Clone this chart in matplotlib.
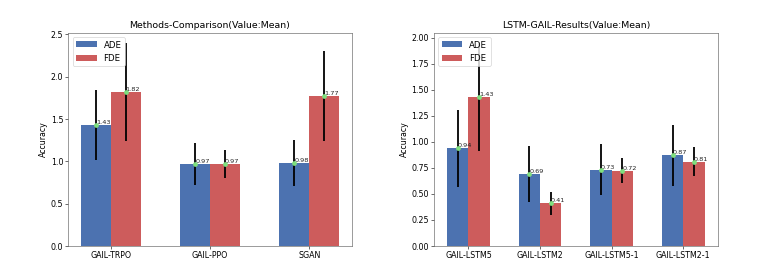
import numpy as np
import matplotlib.pyplot as plt

# left panel
methods = ['GAIL-TRPO', 'GAIL-PPO', 'SGAN']
methods_ade = [1.43, 0.97, 0.98]
methods_fde = [1.82, 0.97, 1.77]
methods_ade_std = [0.41, 0.25, 0.27]
methods_fde_std = [0.58, 0.165, 0.53]

# right panel
lstm = ['GAIL-LSTM5', 'GAIL-LSTM2', 'GAIL-LSTM5-1', 'GAIL-LSTM2-1']
lstm_ade = [0.94, 0.69, 0.73, 0.87]
lstm_fde = [1.43, 0.41, 0.72, 0.81]
lstm_ade_std = [0.37, 0.27, 0.245, 0.295]
lstm_fde_std = [0.52, 0.11, 0.12, 0.14]

blue = '#4C72B0'
red = '#CD5C5C'
bar_w = 0.3

plt.rcParams['font.size'] = 11
plt.rcParams['axes.titlesize'] = 13

fig = plt.figure(figsize=(15, 5.285), dpi=775 / 15)
ax1 = fig.add_axes([0.088, 0.099, 0.366, 0.781])
ax2 = fig.add_axes([0.560, 0.099, 0.366, 0.781])


def draw(ax, names, ade, fde, ade_std, fde_std, title):
    x = np.arange(len(names))
    ax.bar(x - bar_w / 2, ade, bar_w, color=blue, label='ADE')
    ax.bar(x + bar_w / 2, fde, bar_w, color=red, label='FDE')
    for xs, vals, errs in [(x - bar_w / 2, ade, ade_std), (x + bar_w / 2, fde, fde_std)]:
        ax.errorbar(xs, vals, yerr=errs, fmt='none', ecolor='black', elinewidth=2.5, capsize=0)
        ax.plot(xs, vals, 'o', color='#7FE07F', markersize=5.5, zorder=5)
        for xi, v in zip(xs, vals):
            ax.text(xi, v, '%.2f' % v, ha='left', va='bottom', fontsize=9, color='#222222')
    ax.set_xticks(x)
    ax.set_xticklabels(names)
    ax.set_ylabel('Accuracy')
    ax.set_title(title)
    ax.legend(loc='upper left', fontsize=12, handlelength=2.4)
    for s in ax.spines.values():
        s.set_color('#555555')


draw(ax1, methods, methods_ade, methods_fde, methods_ade_std, methods_fde_std,
     'Methods-Comparison(Value:Mean)')
draw(ax2, lstm, lstm_ade, lstm_fde, lstm_ade_std, lstm_fde_std,
     'LSTM-GAIL-Results(Value:Mean)')

fig.savefig('out.png')
